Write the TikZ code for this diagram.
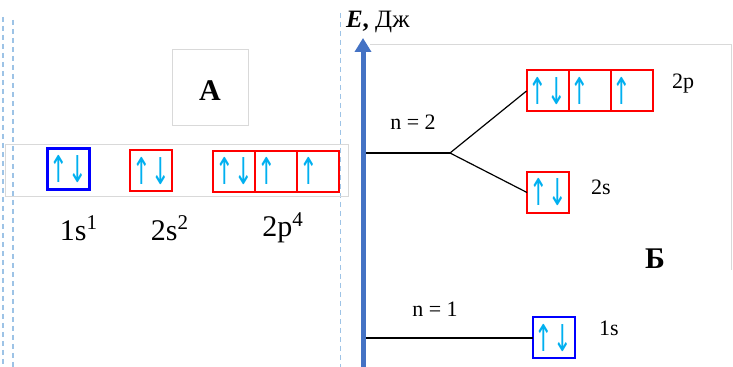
\documentclass[tikz,border=0pt]{standalone}
\usepackage{fontspec}
\usepackage{graphicx}
\setmainfont{Liberation Serif}
\newfontfamily\spinfont{DejaVu Sans}
\usetikzlibrary{positioning, arrows.meta}
\definecolor{oBlue}{HTML}{0000FF}
\definecolor{oRed}{HTML}{FF0000}
\definecolor{oCyan}{HTML}{00B0F0}
\definecolor{oAxis}{HTML}{4472C4}
\definecolor{oGuide}{HTML}{9DC3E6}
\definecolor{oFrame}{HTML}{D9D9D9}
\newcommand{\orbspin}[1]{\scalebox{0.6}[1]{#1}}

\begin{document}
\begin{tikzpicture}[
  x=0.5pt, y=-0.5pt,
  every node/.style={font=\rmfamily},
  cell/.style={draw, rectangle, minimum width=21pt, minimum height=20.5pt,
               inner sep=0pt, outer sep=0pt, line width=1pt, text=oCyan,
               font=\spinfont\fontsize{18.5}{18.5}\selectfont},
  scell/.style={cell, draw=oBlue, line width=1.5pt},
  pcell/.style={cell, draw=oRed},
  guide/.style={oGuide, dash pattern=on 2.5pt off 2pt},
  frame/.style={oFrame, line width=0.5pt},
  conf/.style={font=\fontsize{15}{18}\selectfont},
  lvl/.style={font=\fontsize{11}{13}\selectfont},
]
  % Background
  \useasboundingbox (0,0) rectangle (733,367);
  \fill[white] (0,0) rectangle (733,367);

  % Guide lines
  \draw[guide, line width=0.6pt] (3,17) -- (3,367);
  \draw[guide, line width=1pt] (13,20) -- (13,367);
  \draw[guide, line width=0.5pt] (340,13) -- (340,367);

  % Part A
  \draw[frame] (172,50) rectangle (248,126);
  \node[font=\fontsize{15}{18}\selectfont\bfseries] (lblA) at (210,91) {A};
  \draw[frame] (5,145) rectangle (348,197);
  \node[scell] (a1s) at (68.5,169.5) {\orbspin{↑↓}};
  \node[pcell] (a2s) at (151,171) {\orbspin{↑↓}};
  \node[pcell] (a2p1) at (234,171.5) {\orbspin{↑↓}};
  \node[pcell, right=0pt of a2p1] (a2p2) {\orbspin{↑\phantom{↓}}};
  \node[pcell, right=0pt of a2p2] (a2p3) {\orbspin{↑\phantom{↓}}};
  \node[conf] (c1s) at (79,228) {1s\textsuperscript{1}};
  \node[conf] (c2s) at (170,228) {2s\textsuperscript{2}};
  \node[conf] (c2p) at (283,228) {2p\textsuperscript{4}};

  % Energy axis
  \coordinate (axbot) at (363,367);
  \coordinate (axtop) at (363,38);
  \draw[oAxis, line width=2.5pt, -{Triangle[width=8pt, length=7pt]}] (axbot) -- (axtop);
  \node[anchor=west, font=\fontsize{12.5}{14}\selectfont] (elbl) at (339,22)
    {\textbf{\textit{E},} Дж};
  \draw[frame] (370,45) -- (731,45) -- (731,270);

  % Level n = 2
  \coordinate (n2start) at (366,153);
  \coordinate (fork) at (450,153);
  \draw[line width=1pt] (n2start) -- (fork);
  \node[lvl] (ln2) at (413,122) {n = 2};
  \node[pcell] (b2p1) at (547.5,91) {\orbspin{↑↓}};
  \node[pcell, right=0pt of b2p1] (b2p2) {\orbspin{↑\phantom{↓}}};
  \node[pcell, right=0pt of b2p2] (b2p3) {\orbspin{↑\phantom{↓}}};
  \node[pcell] (b2s) at (548,192.5) {\orbspin{↑↓}};
  \draw[line width=0.6pt] (fork) -- (b2p1.west);
  \draw[line width=0.6pt] (fork) -- (b2s.west);
  \node[lvl] (lb2p) at (683,84) {2p};
  \node[lvl] (lb2s) at (601,187) {2s};

  % Level n = 1
  \node[scell, line width=1pt] (b1s) at (553.5,338) {\orbspin{↑↓}};
  \coordinate (n1start) at (366,338);
  \draw[line width=1pt] (n1start) -- (b1s.west);
  \node[lvl] (ln1) at (435,309) {n = 1};
  \node[lvl] (lb1s) at (609,328) {1s};
  \node[font=\fontsize{15}{18}\selectfont\bfseries] (lblB) at (655,259) {Б};
\end{tikzpicture}
\end{document}
